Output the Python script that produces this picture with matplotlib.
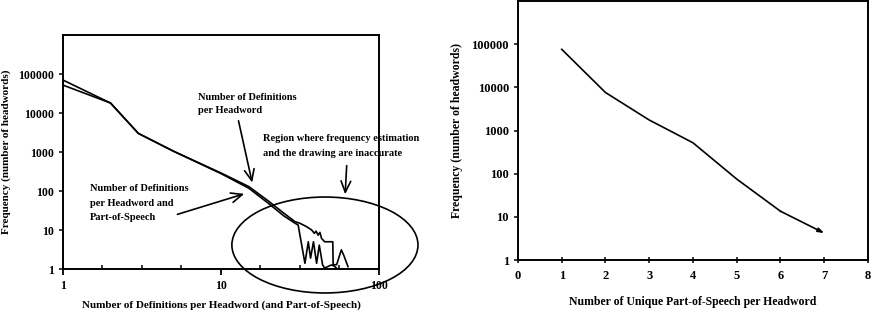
import matplotlib
matplotlib.use('Agg')
import matplotlib.pyplot as plt
from matplotlib.patches import Ellipse
import numpy as np

plt.rcParams['font.family'] = ['Liberation Serif', 'DejaVu Serif']
plt.rcParams['font.weight'] = 'bold'
plt.rcParams['axes.labelweight'] = 'bold'

# left panel: definitions per headword (log-log)
defs_x = [1, 2, 3, 5, 10, 15, 20, 25, 29.4, 31.6, 34.8, 37.5, 39, 40, 41.2, 42.3, 43.3,
          45.3, 49, 51, 51.3, 54, 57.8, 60, 63.7]
defs_y = [70000, 18000, 3000, 1050, 290, 130, 55, 27, 16.4, 14.9, 12.2, 10, 8.2, 9.4, 7.4,
          8.7, 6.1, 5.0, 5.0, 5.0, 1.27, 1.3, 3.1, 2.2, 1.15]

# definitions per headword and part-of-speech
pos_defs_x = [1, 2, 3, 5, 10, 15, 20, 25, 29.4, 30.8, 34, 35.7, 36.9, 38.5, 40.3, 41.9,
              44, 45.3, 50, 52, 54.6]
pos_defs_y = [52000, 18000, 3000, 1050, 280, 118, 48, 23, 15, 13.4, 1.4, 5.0, 1.9, 5.0,
              1.4, 4.1, 1.27, 1.06, 1.27, 1.2, 1.0]

# right panel: unique part-of-speech per headword
npos_x = [1, 2, 3, 4, 5, 6, 7]
npos_y = [76000, 7600, 1750, 520, 75, 13.5, 4.2]

ytick_vals = [1, 10, 100, 1000, 10000, 100000]
ytick_labels = ['1', '10', '100', '1000', '10000', '100000']

fig = plt.figure(figsize=(8.76, 3.16), dpi=100)

# ---- left panel
ax1 = fig.add_axes([0.0719, 0.1487, 0.3607, 0.7405])
ax1.plot(defs_x, defs_y, color='black', lw=1.2)
ax1.plot(pos_defs_x, pos_defs_y, color='black', lw=1.2)
ax1.set_xscale('log')
ax1.set_yscale('log')
ax1.set_xlim(1, 100)
ax1.set_ylim(1, 1e6)
ax1.set_yticks(ytick_vals)
ax1.set_yticklabels(ytick_labels)
ax1.yaxis.set_minor_locator(matplotlib.ticker.NullLocator())
ax1.set_xticks([1, 10, 100])
ax1.set_xticklabels(['1', '10', '100'])
ax1.set_xticks([10 ** (k / 4) for k in range(1, 8) if k % 4 != 0], minor=True)
ax1.xaxis.set_minor_formatter(matplotlib.ticker.NullFormatter())
ax1.tick_params(axis='x', which='major', direction='out', length=4, width=1.3, labelsize=8.5, pad=4)
ax1.tick_params(axis='x', which='minor', direction='in', length=3, width=1.1)
ax1.tick_params(axis='y', direction='out', length=3, width=1.1, labelsize=8.5)
ax1.set_xlabel('Number of Definitions per Headword (and Part-of-Speech)', fontsize=8, labelpad=6)
ax1.set_ylabel('Frequency (number of headwords)', fontsize=8, labelpad=5)
for s in ax1.spines.values():
    s.set_linewidth(1.4)

ax1.text(0.427, 0.705, 'Number of Definitions\nper Headword', transform=ax1.transAxes,
         fontsize=7.5, va='center', ha='left', linespacing=1.5)
ax1.annotate('', xy=(15.9, 140), xytext=(12.8, 7400),
             arrowprops=dict(arrowstyle='->,head_length=0.8,head_width=0.35', color='black', lw=1.2))
ax1.text(0.085, 0.282, 'Number of Definitions\nper Headword and\nPart-of-Speech', transform=ax1.transAxes,
         fontsize=7.5, va='center', ha='left', linespacing=1.75)
ax1.annotate('', xy=(14.6, 89), xytext=(5.1, 24),
             arrowprops=dict(arrowstyle='->,head_length=0.8,head_width=0.35', color='black', lw=1.2))
ax1.text(0.633, 0.526, 'Region where frequency estimation\nand the drawing are inaccurate',
         transform=ax1.transAxes, fontsize=7.5, va='center', ha='left', linespacing=1.75,
         clip_on=False)
ax1.annotate('', xy=(61, 70), xytext=(62.6, 525),
             arrowprops=dict(arrowstyle='->,head_length=0.8,head_width=0.35', color='black', lw=1.2),
             annotation_clip=False)
ax1.add_patch(Ellipse((0.829, 0.1026), 0.589, 0.41, transform=ax1.transAxes,
                      fill=False, edgecolor='black', lw=1.2, clip_on=False))

# ---- right panel
ax2 = fig.add_axes([0.5913, 0.1772, 0.3995, 0.8196])
ax2.plot(npos_x[:-1], npos_y[:-1], color='black', lw=1.2)
ax2.annotate('', xy=(npos_x[-1], npos_y[-1]), xytext=(npos_x[-2], npos_y[-2]),
             arrowprops=dict(arrowstyle='-|>,head_length=0.35,head_width=0.12', color='black', lw=1.2,
                             shrinkA=0, shrinkB=0))
ax2.set_yscale('log')
ax2.set_xlim(0, 8)
ax2.set_ylim(1, 1e6)
ax2.set_yticks(ytick_vals)
ax2.set_yticklabels(ytick_labels)
ax2.yaxis.set_minor_locator(matplotlib.ticker.NullLocator())
ax2.set_xticks(range(0, 9))
ax2.tick_params(axis='x', direction='inout', length=5, width=1.1, labelsize=9, pad=5)
ax2.tick_params(axis='y', direction='out', length=3, width=1.1, labelsize=9)
ax2.set_xlabel('Number of Unique Part-of-Speech per Headword', fontsize=8.5, labelpad=10)
ax2.set_ylabel('Frequency (number of headwords)', fontsize=8.5, labelpad=6)
for s in ax2.spines.values():
    s.set_linewidth(1.4)

fig.savefig('out.png', dpi=100)
